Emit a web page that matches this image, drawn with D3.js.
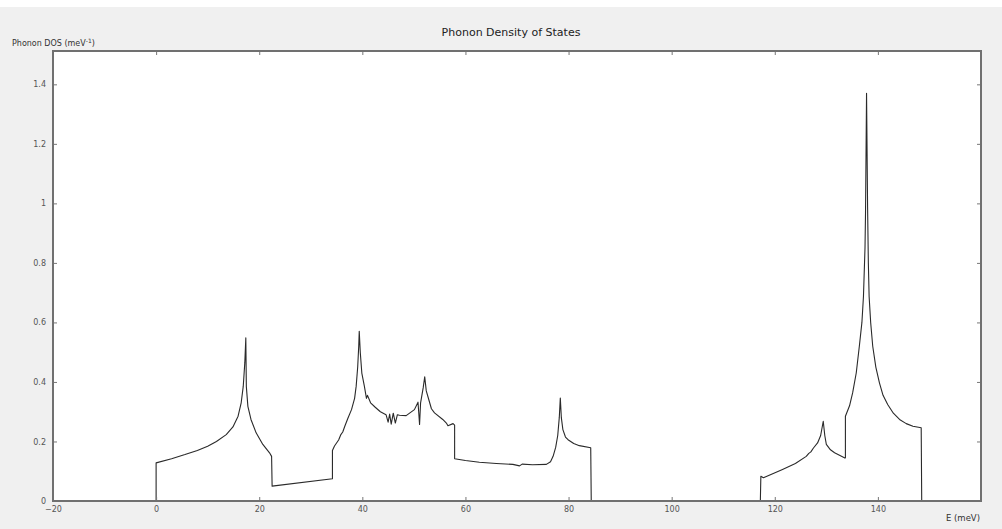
<!DOCTYPE html>
<html>
<head>
<meta charset="utf-8">
<script src="https://cdn.jsdelivr.net/npm/d3@7/dist/d3.min.js"></script>
<style>
  html, body { margin: 0; padding: 0; background: #f0f0f0; }
  svg { display: block; }
</style>
</head>
<body>
<svg width="1002" height="529"></svg>
<script>
// energy (meV)
var energy = [
  0, 0, 3, 5.6, 8, 10, 11.7, 13.6, 14.9, 15.9, 16.5, 16.9, 17.2, 17.4,
  17.5, 17.8, 18.4, 19.4, 20.7, 22.0, 22.4, 22.5,
  34.2, 34.2, 34.6, 35.0, 35.4, 35.8, 36.2, 36.6, 37.2, 37.9, 38.5, 38.8, 39.1, 39.3, 39.4,
  39.6, 39.9, 40.4, 40.8, 41.0, 41.6, 42.5, 43.5, 44.6,
  45.0, 45.3, 45.6, 46.0, 46.4, 46.8, 47.2, 48.5, 50.1, 50.8, 51.1, 51.3, 51.8, 52.1,
  52.4, 52.8, 53.4, 54.0, 55.6, 56.3, 56.6, 57.6, 57.9,
  57.9, 60, 62.7, 66, 69.2, 70.5, 71.0, 73, 75.7,
  76.5, 77.0, 77.5, 77.9, 78.2, 78.4, 78.6, 78.9, 79.4, 79.9, 81, 82.1, 84.3, 84.4,
  117.2, 117.3, 117.8, 121.5, 124, 126.1, 126.6, 127.0, 127.5, 128.3, 128.9, 129.4,
  129.7, 130.0, 130.8, 131.6, 133.5,
  133.7, 133.7, 134.5, 135.1, 135.8, 136.4, 136.9, 137.2, 137.5, 137.6, 137.8,
  138.0, 138.15, 138.3, 138.6, 139.0, 139.6, 140.3, 141.0, 141.9, 143.0, 144.2, 145.5, 146.8,
  148.4, 148.5];

// phonon DOS (1/meV)
var dos = [
  0, 0.128, 0.142, 0.156, 0.170, 0.184, 0.200, 0.223, 0.249, 0.285, 0.330, 0.385, 0.464, 0.548,
  0.385, 0.318, 0.274, 0.229, 0.190, 0.162, 0.150, 0.050,
  0.075, 0.170, 0.185, 0.195, 0.205, 0.222, 0.232, 0.251, 0.278, 0.307, 0.345, 0.385, 0.450, 0.520, 0.570,
  0.500, 0.430, 0.385, 0.345, 0.355, 0.330, 0.315, 0.300, 0.290,
  0.265, 0.292, 0.258, 0.295, 0.262, 0.290, 0.288, 0.287, 0.307, 0.332, 0.257, 0.330, 0.380, 0.417,
  0.370, 0.346, 0.310, 0.296, 0.274, 0.262, 0.253, 0.260, 0.255,
  0.142, 0.136, 0.130, 0.126, 0.123, 0.118, 0.124, 0.122, 0.123,
  0.132, 0.150, 0.180, 0.220, 0.280, 0.346, 0.280, 0.240, 0.215, 0.206, 0.193, 0.186, 0.179, 0,
  0, 0.083, 0.078, 0.106, 0.126, 0.150, 0.160, 0.165, 0.178, 0.195, 0.220, 0.268,
  0.220, 0.190, 0.172, 0.162, 0.145,
  0.145, 0.285, 0.320, 0.363, 0.430, 0.520, 0.600, 0.687, 0.850, 0.967, 1.370,
  0.990, 0.800, 0.687, 0.600, 0.520, 0.450, 0.397, 0.355, 0.324, 0.295, 0.274, 0.260, 0.251,
  0.246, 0];

var xTicks = [-20, 0, 20, 40, 60, 80, 100, 120, 140];
var yTicks = [0, 0.2, 0.4, 0.6, 0.8, 1, 1.2, 1.4];

var svg = d3.select("svg"),
    margin = {top: 51, right: 21, bottom: 28, left: 53},
    width = +svg.attr("width") - margin.left - margin.right,
    height = +svg.attr("height") - margin.top - margin.bottom;

// white strip on top of the window
svg.append("rect")
  .attr("width", 1002).attr("height", 7)
  .attr("fill", "#fff");

var g = svg.append("g")
  .attr("transform", "translate(" + margin.left + "," + margin.top + ")");

var x = d3.scaleLinear().domain([-20, 160]).range([0, width]);
var y = d3.scaleLinear().domain([0, 1.512]).range([height, 0]);

// plot area
g.append("rect")
  .attr("width", width).attr("height", height)
  .attr("fill", "#fff");

// curve
var pts = energy.map(function(e, i) { return [e, dos[i]]; });
var line = d3.line()
  .x(function(d) { return x(d[0]); })
  .y(function(d) { return y(d[1]); });

g.append("path")
  .datum(pts)
  .attr("fill", "none")
  .attr("stroke", "#2a2a2a")
  .attr("stroke-width", 1.1)
  .attr("stroke-linejoin", "round")
  .attr("d", line);

// axes, ticks pointing inward
function styleAxis(sel) {
  sel.select(".domain").remove();
  sel.selectAll(".tick line").attr("stroke", "#777");
  sel.selectAll(".tick text")
    .attr("fill", "#555")
    .attr("font-family", "DejaVu Sans, sans-serif")
    .attr("font-size", 8);
}

g.append("g")
  .attr("transform", "translate(0," + height + ")")
  .call(d3.axisBottom(x).tickValues(xTicks).tickSize(-4).tickPadding(5))
  .call(styleAxis);

g.append("g")
  .call(d3.axisTop(x).tickValues(xTicks).tickSize(-4).tickFormat(""))
  .call(styleAxis);

g.append("g")
  .call(d3.axisLeft(y).tickValues(yTicks).tickSize(-4).tickPadding(7).tickFormat(d3.format("~g")))
  .call(styleAxis);

g.append("g")
  .attr("transform", "translate(" + width + ",0)")
  .call(d3.axisRight(y).tickValues(yTicks).tickSize(-4).tickFormat(""))
  .call(styleAxis);

// frame
g.append("rect")
  .attr("width", width).attr("height", height)
  .attr("fill", "none")
  .attr("stroke", "#707070")
  .attr("stroke-width", 2);

// title and axis labels
svg.append("text")
  .attr("x", 511).attr("y", 36)
  .attr("text-anchor", "middle")
  .attr("font-family", "DejaVu Sans, sans-serif")
  .attr("font-size", 11)
  .attr("fill", "#222")
  .text("Phonon Density of States");

var yl = svg.append("text")
  .attr("x", 12).attr("y", 46)
  .attr("font-family", "DejaVu Sans, sans-serif")
  .attr("font-size", 8)
  .attr("fill", "#333")
  .text("Phonon DOS (meV");
yl.append("tspan").attr("dy", -3).attr("font-size", 6).text("-1");
yl.append("tspan").attr("dy", 3).text(")");

svg.append("text")
  .attr("x", 980).attr("y", 521)
  .attr("text-anchor", "end")
  .attr("font-family", "DejaVu Sans, sans-serif")
  .attr("font-size", 8.5)
  .attr("fill", "#333")
  .text("E (meV)");
</script>
</body>
</html>
